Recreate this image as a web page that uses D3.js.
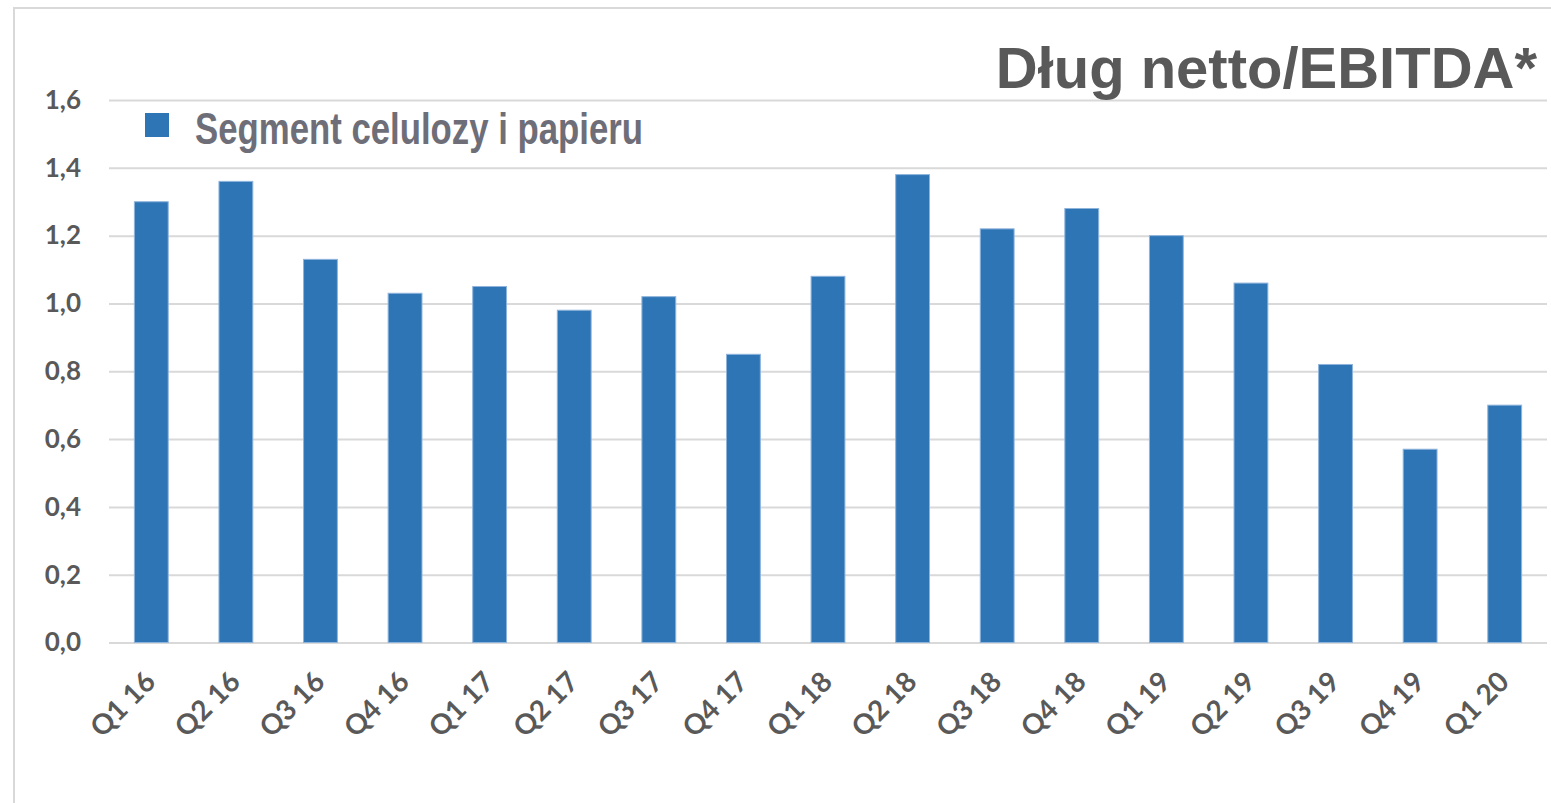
<!DOCTYPE html>
<html>
<head>
<meta charset="utf-8">
<script src="https://cdn.jsdelivr.net/npm/d3@7"></script>
<style>
  body { margin: 0; background: #fff; overflow: hidden; }
</style>
</head>
<body>
<div id="chart"></div>
<script>
const quarters = ['Q1 16', 'Q2 16', 'Q3 16', 'Q4 16', 'Q1 17', 'Q2 17', 'Q3 17', 'Q4 17',
  'Q1 18', 'Q2 18', 'Q3 18', 'Q4 18', 'Q1 19', 'Q2 19', 'Q3 19', 'Q4 19', 'Q1 20'];
const debtRatio = [1.30, 1.36, 1.13, 1.03, 1.05, 0.98, 1.02, 0.85,
  1.08, 1.38, 1.22, 1.28, 1.20, 1.06, 0.82, 0.57, 0.70];
const yTicks = [0, 0.2, 0.4, 0.6, 0.8, 1.0, 1.2, 1.4, 1.6];
const seriesName = 'Segment celulozy i papieru';
const chartTitle = 'Dług netto/EBITDA*';

const width = 1551;
const height = 803;
const margin = { top: 100, right: 4, bottom: 160.5, left: 109 };
const innerWidth = width - margin.left - margin.right;
const innerHeight = height - margin.top - margin.bottom;

const svg = d3.select('#chart')
  .append('svg')
  .attr('width', width)
  .attr('height', height)
  .style('display', 'block');

// outer frame (only top and left edges are visible)
svg.append('path')
  .attr('d', `M14,${height} L14,8 L${width},8`)
  .attr('fill', 'none')
  .attr('stroke', '#d9d9d9')
  .attr('stroke-width', 2);

const g = svg.append('g')
  .attr('transform', `translate(${margin.left},${margin.top})`);

const x = d3.scaleBand()
  .domain(quarters)
  .range([0, innerWidth])
  .paddingInner(0.6)
  .paddingOuter(0.3);

const y = d3.scaleLinear()
  .domain([0, 1.6])
  .range([innerHeight, 0]);

// gridlines + y labels
const yAxis = g.append('g')
  .call(d3.axisLeft(y)
    .tickValues(yTicks)
    .tickSize(-innerWidth)
    .tickPadding(28)
    .tickFormat(d => d3.format('.1f')(d).replace('.', ',')));
yAxis.select('.domain').remove();
yAxis.selectAll('line')
  .attr('stroke', '#d9d9d9')
  .attr('stroke-width', 2);
yAxis.selectAll('text')
  .attr('fill', '#595959')
  .style('font-family', 'Lato, "Open Sans", sans-serif')
  .style('font-size', '26px')
  .style('font-weight', 'bold');

// bars
g.selectAll('rect.bar')
  .data(debtRatio)
  .enter()
  .append('rect')
  .attr('class', 'bar')
  .attr('x', (d, i) => x(quarters[i]))
  .attr('y', d => y(d))
  .attr('width', x.bandwidth())
  .attr('height', d => innerHeight - y(d))
  .attr('fill', '#2e75b6')
  .attr('stroke', '#8fb4dc')
  .attr('stroke-width', 1);

// x labels, rotated
const xAxis = g.append('g')
  .attr('transform', `translate(0,${innerHeight})`)
  .call(d3.axisBottom(x).tickSize(0).tickPadding(0));
xAxis.select('.domain').remove();
xAxis.selectAll('text')
  .attr('text-anchor', 'end')
  .attr('dy', null)
  .attr('y', null)
  .attr('transform', 'translate(6,41) rotate(-45)')
  .attr('fill', '#595959')
  .style('font-family', 'Lato, "Open Sans", sans-serif')
  .style('font-size', '28px')
  .style('font-weight', 'bold');

// legend
svg.append('rect')
  .attr('x', 145)
  .attr('y', 113)
  .attr('width', 24)
  .attr('height', 24)
  .attr('fill', '#2e75b6');

svg.append('text')
  .attr('x', 195)
  .attr('y', 144)
  .attr('textLength', 448)
  .attr('lengthAdjust', 'spacingAndGlyphs')
  .attr('fill', '#6e6e78')
  .style('font-family', '"Liberation Sans Narrow", "Arial Narrow", "Liberation Sans", sans-serif')
  .style('font-size', '44px')
  .style('font-weight', 'bold')
  .text(seriesName);

// title
svg.append('text')
  .attr('x', 1537)
  .attr('y', 88)
  .attr('text-anchor', 'end')
  .attr('fill', '#595959')
  .style('font-family', '"Liberation Sans", Arial, sans-serif')
  .style('font-size', '58px')
  .style('font-weight', 'bold')
  .text(chartTitle);
</script>
</body>
</html>
